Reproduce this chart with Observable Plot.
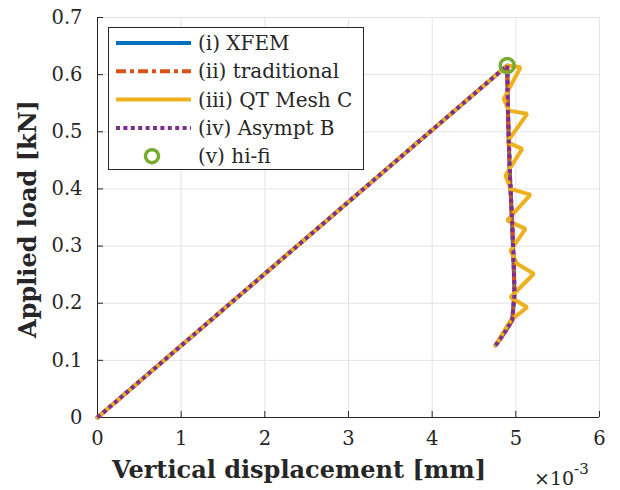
<!DOCTYPE html>
<html><head><meta charset="utf-8">
<script src="https://cdn.jsdelivr.net/npm/d3@7"></script>
<script src="https://cdn.jsdelivr.net/npm/@observablehq/plot@0.6"></script>
<style>
body{margin:0;background:#fff;}
#wrap{position:relative;width:620px;height:490px;font-family:"DejaVu Serif",serif;}
#legend{position:absolute;left:108px;top:27px;}
</style></head><body><div id="wrap"></div>
<script>
// ---- data (displacement in 1e-3 mm, load in kN) ----
const xTicks = [0, 1, 2, 3, 4, 5, 6];
const yTicks = [0, 0.1, 0.2, 0.3, 0.4, 0.5, 0.6, 0.7];
const yTickLabels = ["0", "0.1", "0.2", "0.3", "0.4", "0.5", "0.6", "0.7"];

const xfemX = [0, 4.897, 4.904, 4.928, 4.956, 4.975, 4.984, 4.956, 4.856, 4.757];
const xfemY = [0, 0.616, 0.543, 0.4265, 0.339, 0.263, 0.2165, 0.170, 0.1465, 0.126];

const tradX = [0, 4.897, 4.904, 4.928, 4.957, 4.976, 4.984, 4.956, 4.856, 4.757];
const tradY = [0, 0.616, 0.543, 0.4265, 0.339, 0.263, 0.2165, 0.170, 0.1465, 0.126];

const qtX = [0, 4.897, 5.056, 4.856, 4.916, 5.136, 4.897, 5.076, 4.876, 4.936, 5.175, 4.897, 5.115, 4.936, 5.016, 5.215, 4.936, 5.136, 4.936, 4.757];
const qtY = [0, 0.616, 0.613, 0.558, 0.537, 0.5315, 0.482, 0.470, 0.4235, 0.400, 0.390, 0.345, 0.330, 0.292, 0.269, 0.2515, 0.2105, 0.193, 0.170, 0.126];

const asyX = [0, 4.897, 4.905, 4.929, 4.957, 4.976, 4.985, 4.957, 4.857, 4.757];
const asyY = [0, 0.616, 0.543, 0.4265, 0.339, 0.263, 0.2165, 0.170, 0.1465, 0.126];

const hifiX = [4.897];
const hifiY = [0.616];

const seriesNames = ["(i) XFEM", "(ii) traditional", "(iii) QT Mesh C", "(iv) Asympt B", "(v) hi-fi"];
const colors = ["#0072BD", "#D95319", "#EDB120", "#7E2F8E", "#77AC30"];

const toRows = (xs, ys) => xs.map((x, i) => ({x, y: ys[i]}));
const xfem = toRows(xfemX, xfemY);
const trad = toRows(tradX, tradY);
const qt = toRows(qtX, qtY);
const asy = toRows(asyX, asyY);
const hifi = toRows(hifiX, hifiY);

const font = "DejaVu Serif";
const chart = Plot.plot({
  width: 620, height: 490,
  marginLeft: 97, marginRight: 21, marginTop: 17, marginBottom: 73,
  style: {fontFamily: font, background: "#fff", color: "#262626"},
  x: {domain: [0, 6]},
  y: {domain: [0, 0.7]},
  marks: [
    Plot.gridX(xTicks, {stroke: "#e3e3e3", strokeOpacity: 1}),
    Plot.gridY(yTicks, {stroke: "#e3e3e3", strokeOpacity: 1}),
    Plot.frame({stroke: "#e3e3e3"}),
    Plot.ruleX([0], {stroke: "#262626"}),
    Plot.ruleY([0], {stroke: "#262626"}),
    Plot.axisX(xTicks, {tickSize: -6, tickPadding: 20, fontSize: 19.5, label: null, stroke: "#262626", fill: "#262626"}),
    Plot.axisY(yTicks, {tickSize: -6, tickPadding: 21, fontSize: 19.5, label: null, stroke: "#262626", fill: "#262626",
      tickFormat: d => yTickLabels[yTicks.indexOf(d)]}),
    Plot.line(xfem, {x: "x", y: "y", stroke: colors[0], strokeWidth: 4}),
    Plot.line(trad, {x: "x", y: "y", stroke: colors[1], strokeWidth: 4, strokeDasharray: "10,4,4,4"}),
    Plot.line(qt, {x: "x", y: "y", stroke: colors[2], strokeWidth: 4, strokeLinejoin: "miter"}),
    Plot.line(asy, {x: "x", y: "y", stroke: colors[3], strokeWidth: 4, strokeDasharray: "4,3.4", strokeLinecap: "butt"}),
    Plot.dot(hifi, {x: "x", y: "y", r: 7, stroke: colors[4], strokeWidth: 3.5, fill: "none"})
  ]
});
const wrap = document.getElementById("wrap");
wrap.appendChild(chart);

const svg = d3.select(chart);
svg.append("text").attr("x", 299).attr("y", 478).attr("text-anchor", "middle")
  .attr("font-family", font).attr("font-weight", "bold").attr("font-size", 24).attr("fill", "#262626")
  .text("Vertical displacement [mm]");
svg.append("text").attr("transform", "translate(36,219) rotate(-90)").attr("text-anchor", "middle")
  .attr("font-family", font).attr("font-weight", "bold").attr("font-size", 24).attr("fill", "#262626")
  .text("Applied load [kN]");
const ex = svg.append("text").attr("x", 534).attr("y", 485).attr("text-anchor", "start")
  .attr("font-family", font).attr("font-size", 19).attr("fill", "#262626");
ex.append("tspan").text("×10");
ex.append("tspan").attr("dy", -11).attr("font-size", 15).text("-3");

// ---- legend ----
const lw = 256, lh = 143;
const leg = d3.select(wrap).append("svg").attr("id", "legend").attr("width", lw).attr("height", lh);
leg.append("rect").attr("x", 0.5).attr("y", 0.5).attr("width", lw - 1).attr("height", lh - 1)
  .attr("fill", "#fff").attr("stroke", "#262626");
const dashes = [null, "10,4,4,4", null, "4,3.4", null];
seriesNames.forEach((name, i) => {
  const cy = 16 + i * 28.3;
  if (i < 4) {
    leg.append("line").attr("x1", 8).attr("x2", 83).attr("y1", cy).attr("y2", cy)
      .attr("stroke", colors[i]).attr("stroke-width", 4).attr("stroke-dasharray", dashes[i]);
  } else {
    leg.append("circle").attr("cx", 44).attr("cy", cy).attr("r", 6.5)
      .attr("fill", "none").attr("stroke", colors[i]).attr("stroke-width", 3.5);
  }
  leg.append("text").attr("x", 90).attr("y", cy).attr("dy", "0.35em")
    .attr("font-family", font).attr("font-size", 20).attr("fill", "#262626").text(name);
});
</script></body></html>
